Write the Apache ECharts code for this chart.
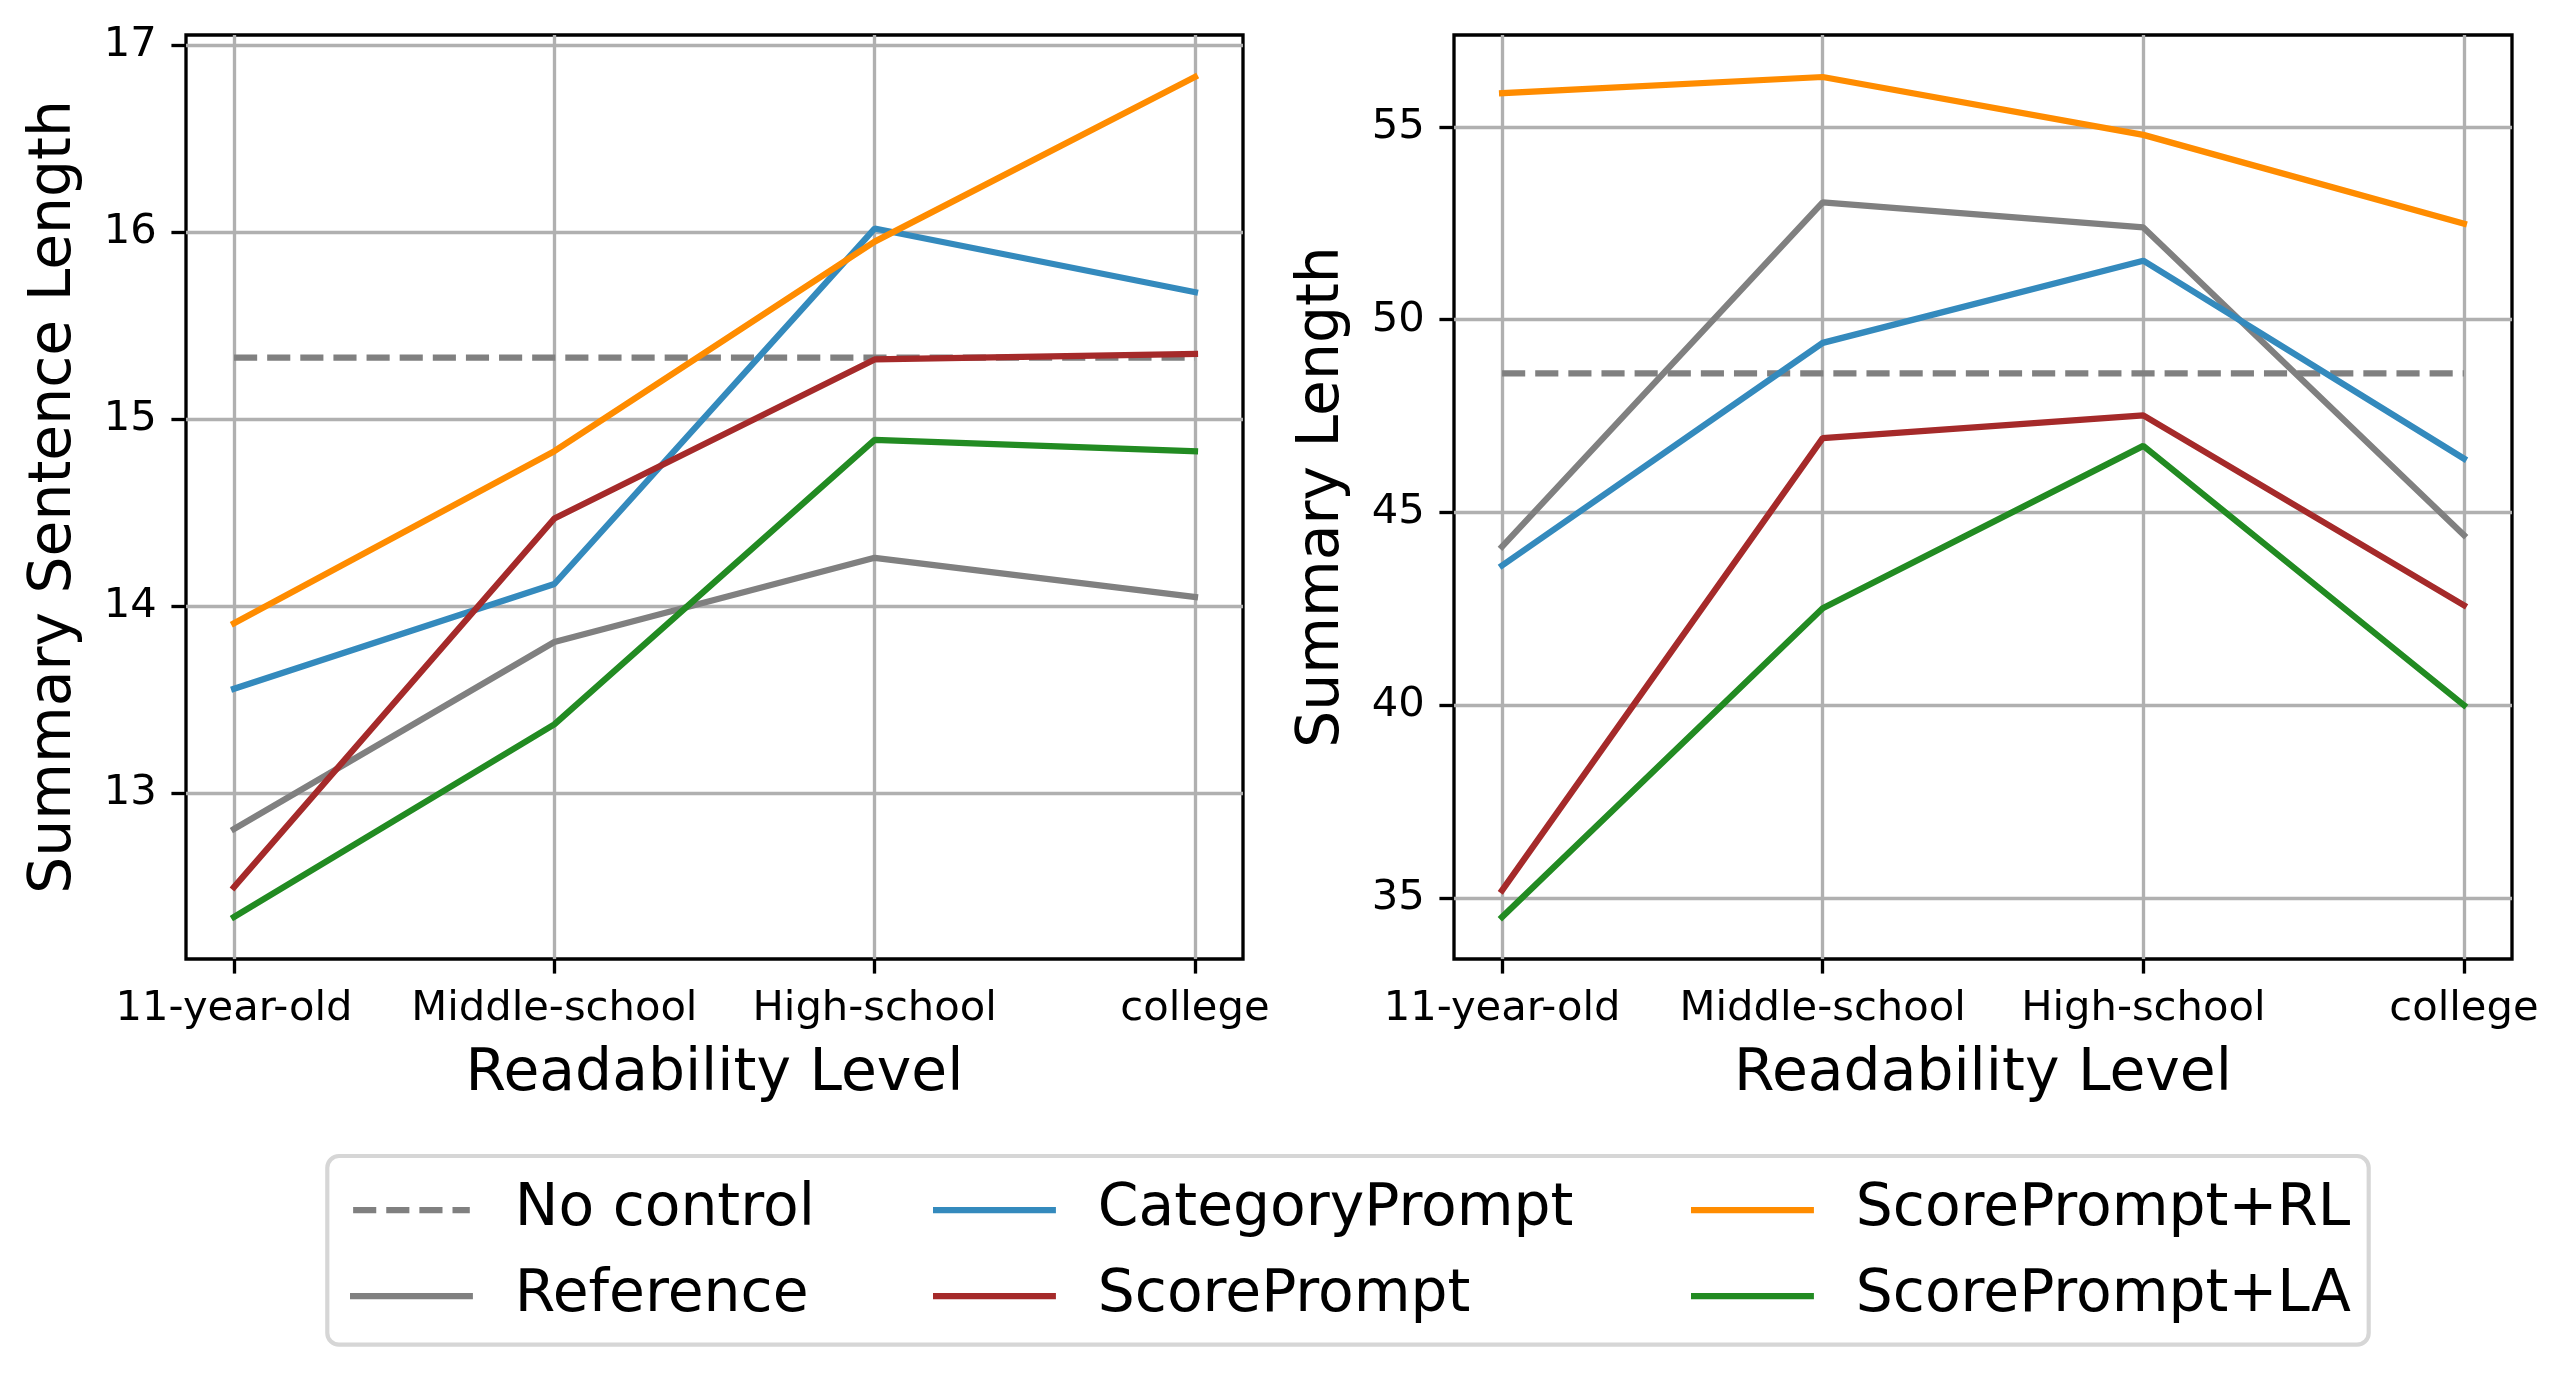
<!DOCTYPE html>
<html>
<head>
<meta charset="utf-8">
<script src="https://cdn.jsdelivr.net/npm/echarts@6/dist/echarts.min.js"></script>
<style>
  html, body { margin: 0; padding: 0; background: #fff; }
  #chart { width: 2567px; height: 1376px; }
</style>
</head>
<body>
<div id="chart"></div>
<script>
// ---------------- DATA ----------------
const categories = ['11-year-old', 'Middle-school', 'High-school', 'college'];

// Left panel: Summary Sentence Length
const noControlSent      = [15.33, 15.33, 15.33, 15.33];
const referenceSent      = [12.81, 13.81, 14.26, 14.05];
const categoryPromptSent = [13.56, 14.12, 16.02, 15.68];
const scorePromptSent    = [12.50, 14.47, 15.32, 15.35];
const scorePromptRLSent  = [13.91, 14.83, 15.95, 16.83];
const scorePromptLASent  = [12.34, 13.37, 14.89, 14.83];

// Right panel: Summary Length
const noControlLen      = [48.61, 48.61, 48.61, 48.61];
const referenceLen      = [44.12, 53.04, 52.39, 44.42];
const categoryPromptLen = [43.63, 49.40, 51.53, 46.40];
const scorePromptLen    = [35.21, 46.93, 47.52, 42.60];
const scorePromptRLLen  = [55.87, 56.29, 54.79, 52.49];
const scorePromptLALen  = [34.52, 42.52, 46.73, 40.01];

// Tick values
const leftYTicks  = [13, 14, 15, 16, 17];
const rightYTicks = [35, 40, 45, 50, 55];
const xTickValues = categories.map((c, i) => i);

// ---------------- STYLE ----------------
const FONT = 'DejaVu Sans';
const DPI = 300 / 72;             // px per pt
const LW = 1.5 * DPI;             // line width
const AX_LW = 0.8 * DPI;          // spine / tick / grid width
const TICK_FS = 10 * DPI;
const LABEL_FS = 14 * DPI;
const TICK_LEN = 3.5 * DPI;
const DASH = [3.7 * LW, 1.6 * LW];

const seriesDefs = [
  { name: 'No control',      color: '#808080', dash: true,  left: noControlSent,      right: noControlLen },
  { name: 'Reference',       color: '#808080', dash: false, left: referenceSent,      right: referenceLen },
  { name: 'CategoryPrompt',  color: '#348ABD', dash: false, left: categoryPromptSent, right: categoryPromptLen },
  { name: 'ScorePrompt',     color: '#A52A2A', dash: false, left: scorePromptSent,    right: scorePromptLen },
  { name: 'ScorePrompt+RL',  color: '#FF8C00', dash: false, left: scorePromptRLSent,  right: scorePromptRLLen },
  { name: 'ScorePrompt+LA',  color: '#228B22', dash: false, left: scorePromptLASent,  right: scorePromptLALen }
];

// matplotlib-like 5% autoscale margins
function extentWithMargin(arrays) {
  const all = [].concat(...arrays);
  const lo = Math.min(...all), hi = Math.max(...all);
  const m = 0.05 * (hi - lo);
  return [lo - m, hi + m];
}
const nCat = categories.length;
const xMin = -0.05 * (nCat - 1), xMax = (nCat - 1) * 1.05;
const leftExt = extentWithMargin(seriesDefs.map(s => s.left));
const rightExt = extentWithMargin(seriesDefs.map(s => s.right));

function xAxisFor(gridIndex) {
  return {
    type: 'value', gridIndex, min: xMin, max: xMax,
    axisLine: { show: false, onZero: false },
    axisTick: { show: true, customValues: xTickValues, length: TICK_LEN, inside: false,
                lineStyle: { color: '#000', width: AX_LW } },
    axisLabel: { customValues: xTickValues, formatter: v => categories[Math.round(v)],
                 margin: TICK_LEN * 2, fontSize: TICK_FS, color: '#000', fontFamily: FONT },
    splitLine: { show: true, lineStyle: { color: '#b0b0b0', width: AX_LW } },
    name: 'Readability Level', nameLocation: 'middle', nameGap: 87,
    nameTextStyle: { fontSize: LABEL_FS, color: '#000', fontFamily: FONT }
  };
}
function yAxisFor(gridIndex, ext, ticks, name) {
  return {
    type: 'value', gridIndex, min: ext[0], max: ext[1],
    axisLine: { show: false, onZero: false },
    axisTick: { show: true, customValues: ticks, length: TICK_LEN, inside: false,
                lineStyle: { color: '#000', width: AX_LW } },
    axisLabel: { customValues: ticks, formatter: v => String(Math.round(v)),
                 margin: TICK_LEN * 2, fontSize: TICK_FS, color: '#000', fontFamily: FONT },
    splitLine: { show: true, lineStyle: { color: '#b0b0b0', width: AX_LW } },
    name, nameLocation: 'middle', nameGap: 102,
    nameTextStyle: { fontSize: LABEL_FS, color: '#000', fontFamily: FONT }
  };
}

const series = [];
[0, 1].forEach(g => {
  seriesDefs.forEach(s => {
    const vals = g === 0 ? s.left : s.right;
    series.push({
      name: s.name, type: 'line', xAxisIndex: g, yAxisIndex: g,
      data: vals.map((v, i) => [i, v]),
      symbol: 'none', showSymbol: false, silent: true,
      lineStyle: { color: s.color, width: LW, type: s.dash ? DASH : 'solid', cap: s.dash ? 'butt' : 'square' },
      itemStyle: { color: s.color },
      emphasis: { disabled: true }
    });
  });
});

function legendCol(left, names) {
  return {
    orient: 'vertical', left, top: 1177, padding: 0, itemGap: 20,
    itemWidth: 2 * LABEL_FS, itemHeight: 10, selectedMode: false,
    itemStyle: { opacity: 0, borderWidth: 0 },
    lineStyle: { width: LW, opacity: 1 },
    textStyle: { fontSize: LABEL_FS, fontFamily: FONT, color: '#000', lineHeight: 58,
                 padding: [8, 0, 0, 40] },
    data: names
  };
}

const option = {
  animation: false,
  backgroundColor: '#fff',
  grid: [
    { left: 186, top: 35, width: 1057, height: 924, show: true, borderColor: '#000', borderWidth: AX_LW, backgroundColor: 'transparent' },
    { left: 1454, top: 35, width: 1058, height: 924, show: true, borderColor: '#000', borderWidth: AX_LW, backgroundColor: 'transparent' }
  ],
  xAxis: [xAxisFor(0), xAxisFor(1)],
  yAxis: [
    yAxisFor(0, leftExt, leftYTicks, 'Summary Sentence Length'),
    yAxisFor(1, rightExt, rightYTicks, 'Summary Length')
  ],
  legend: [
    legendCol(350, ['No control', 'Reference']),
    legendCol(933, ['CategoryPrompt', 'ScorePrompt']),
    legendCol(1691, ['ScorePrompt+RL', 'ScorePrompt+LA'])
  ],
  graphic: [{
    type: 'rect', silent: true, z: -1,
    shape: { x: 327.3, y: 1156, width: 2041.4, height: 188.7, r: 11.7 },
    style: { fill: '#fff', stroke: '#d6d6d6', lineWidth: 1.0 * DPI }
  }],
  series
};

const chart = echarts.init(document.getElementById('chart'), null, { renderer: 'canvas', width: 2567, height: 1376 });
chart.setOption(option);
</script>
</body>
</html>
